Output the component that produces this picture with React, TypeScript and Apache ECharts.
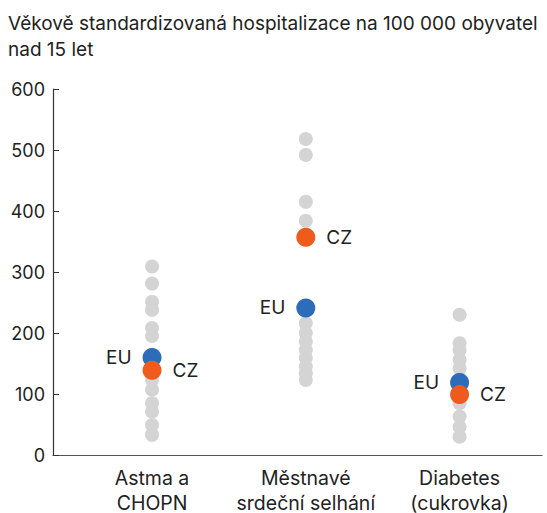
import React, { useEffect, useRef } from "react";
import * as echarts from "echarts";

const categories = ["Astma a\nCHOPN", "Městnavé\nsrdeční selhání", "Diabetes\n(cukrovka)"];
const categoryPositions = [1, 2, 3];
const asthmaCountries = [309, 281, 251, 238, 208, 195, 150, 123, 107, 85, 71, 49, 33];
const heartCountries = [518, 492, 415, 384, 216, 200, 186, 172, 159, 145, 134, 123];
const diabetesCountries = [230, 183, 172, 156, 142, 108, 85, 63, 46, 30];
const euValues = [160, 241, 119];
const czValues = [139, 357, 99];
const yTicks = [0, 100, 200, 300, 400, 500, 600];

const title = "Věkově standardizovaná hospitalizace na 100 000 obyvatel\nnad 15 let";
const FONT = "Inter, 'Noto Sans', sans-serif";

export default function App() {
  const ref = useRef<HTMLDivElement>(null);
  useEffect(() => {
    if (!ref.current) return;
    const chart = echarts.init(ref.current, undefined, { renderer: "svg" });
    const countryGroups = [asthmaCountries, heartCountries, diabetesCountries];
    const greyData: number[][] = [];
    countryGroups.forEach((g, i) => g.forEach((v) => greyData.push([categoryPositions[i], v])));
    chart.setOption({
      animation: false,
      textStyle: { fontFamily: FONT },
      title: {
        text: title,
        left: 0,
        top: 10,
        padding: [0, 0, 0, 8],
        textStyle: { fontFamily: FONT, fontSize: 19, fontWeight: "normal", color: "#222", lineHeight: 26 },
      },
      grid: { left: 53, right: 5, top: 89, bottom: 58, outerBoundsMode: "none", containLabel: false },
      xAxis: {
        type: "value",
        min: 0.356,
        max: 3.536,
        splitLine: { show: false },
        axisLine: { show: true, lineStyle: { color: "#555", width: 1.2 } },
        axisTick: { show: false },
        axisLabel: {
          customValues: categoryPositions,
          formatter: (v: number) => categories[categoryPositions.indexOf(Math.round(v))] ?? "",
          fontFamily: FONT,
          fontSize: 19.5,
          lineHeight: 25,
          color: "#222",
          margin: 10,
        },
      },
      yAxis: {
        type: "value",
        min: 0,
        max: 600,
        interval: 100,
        splitLine: { show: false },
        axisLine: { show: true, lineStyle: { color: "#333", width: 1.2 } },
        axisTick: { show: true, inside: true, length: 6, lineStyle: { color: "#333" } },
        axisLabel: {
          customValues: yTicks,
          fontFamily: FONT,
          fontSize: 18,
          color: "#222",
          margin: 8,
        },
      },
      series: [
        {
          type: "scatter",
          data: greyData,
          symbolSize: 14,
          itemStyle: { color: "#d4d4d4", opacity: 1 },
          z: 1,
        },
        {
          type: "scatter",
          data: euValues.map((v, i) => [categoryPositions[i], v]),
          symbolSize: 19,
          itemStyle: { color: "#2d6cb8", opacity: 1 },
          label: { show: true, formatter: "EU", position: "left", distance: 11, fontFamily: FONT, fontSize: 19, color: "#222" },
          z: 2,
        },
        {
          type: "scatter",
          data: czValues.map((v, i) => [categoryPositions[i], v]),
          symbolSize: 19,
          itemStyle: { color: "#ef5a1d", opacity: 1 },
          label: { show: true, formatter: "CZ", position: "right", distance: 11, fontFamily: FONT, fontSize: 19, color: "#222" },
          z: 3,
        },
      ],
    });
    return () => chart.dispose();
  }, []);
  return <div ref={ref} style={{ width: 547, height: 513, position: "absolute", left: 0, top: 0 }} />;
}
